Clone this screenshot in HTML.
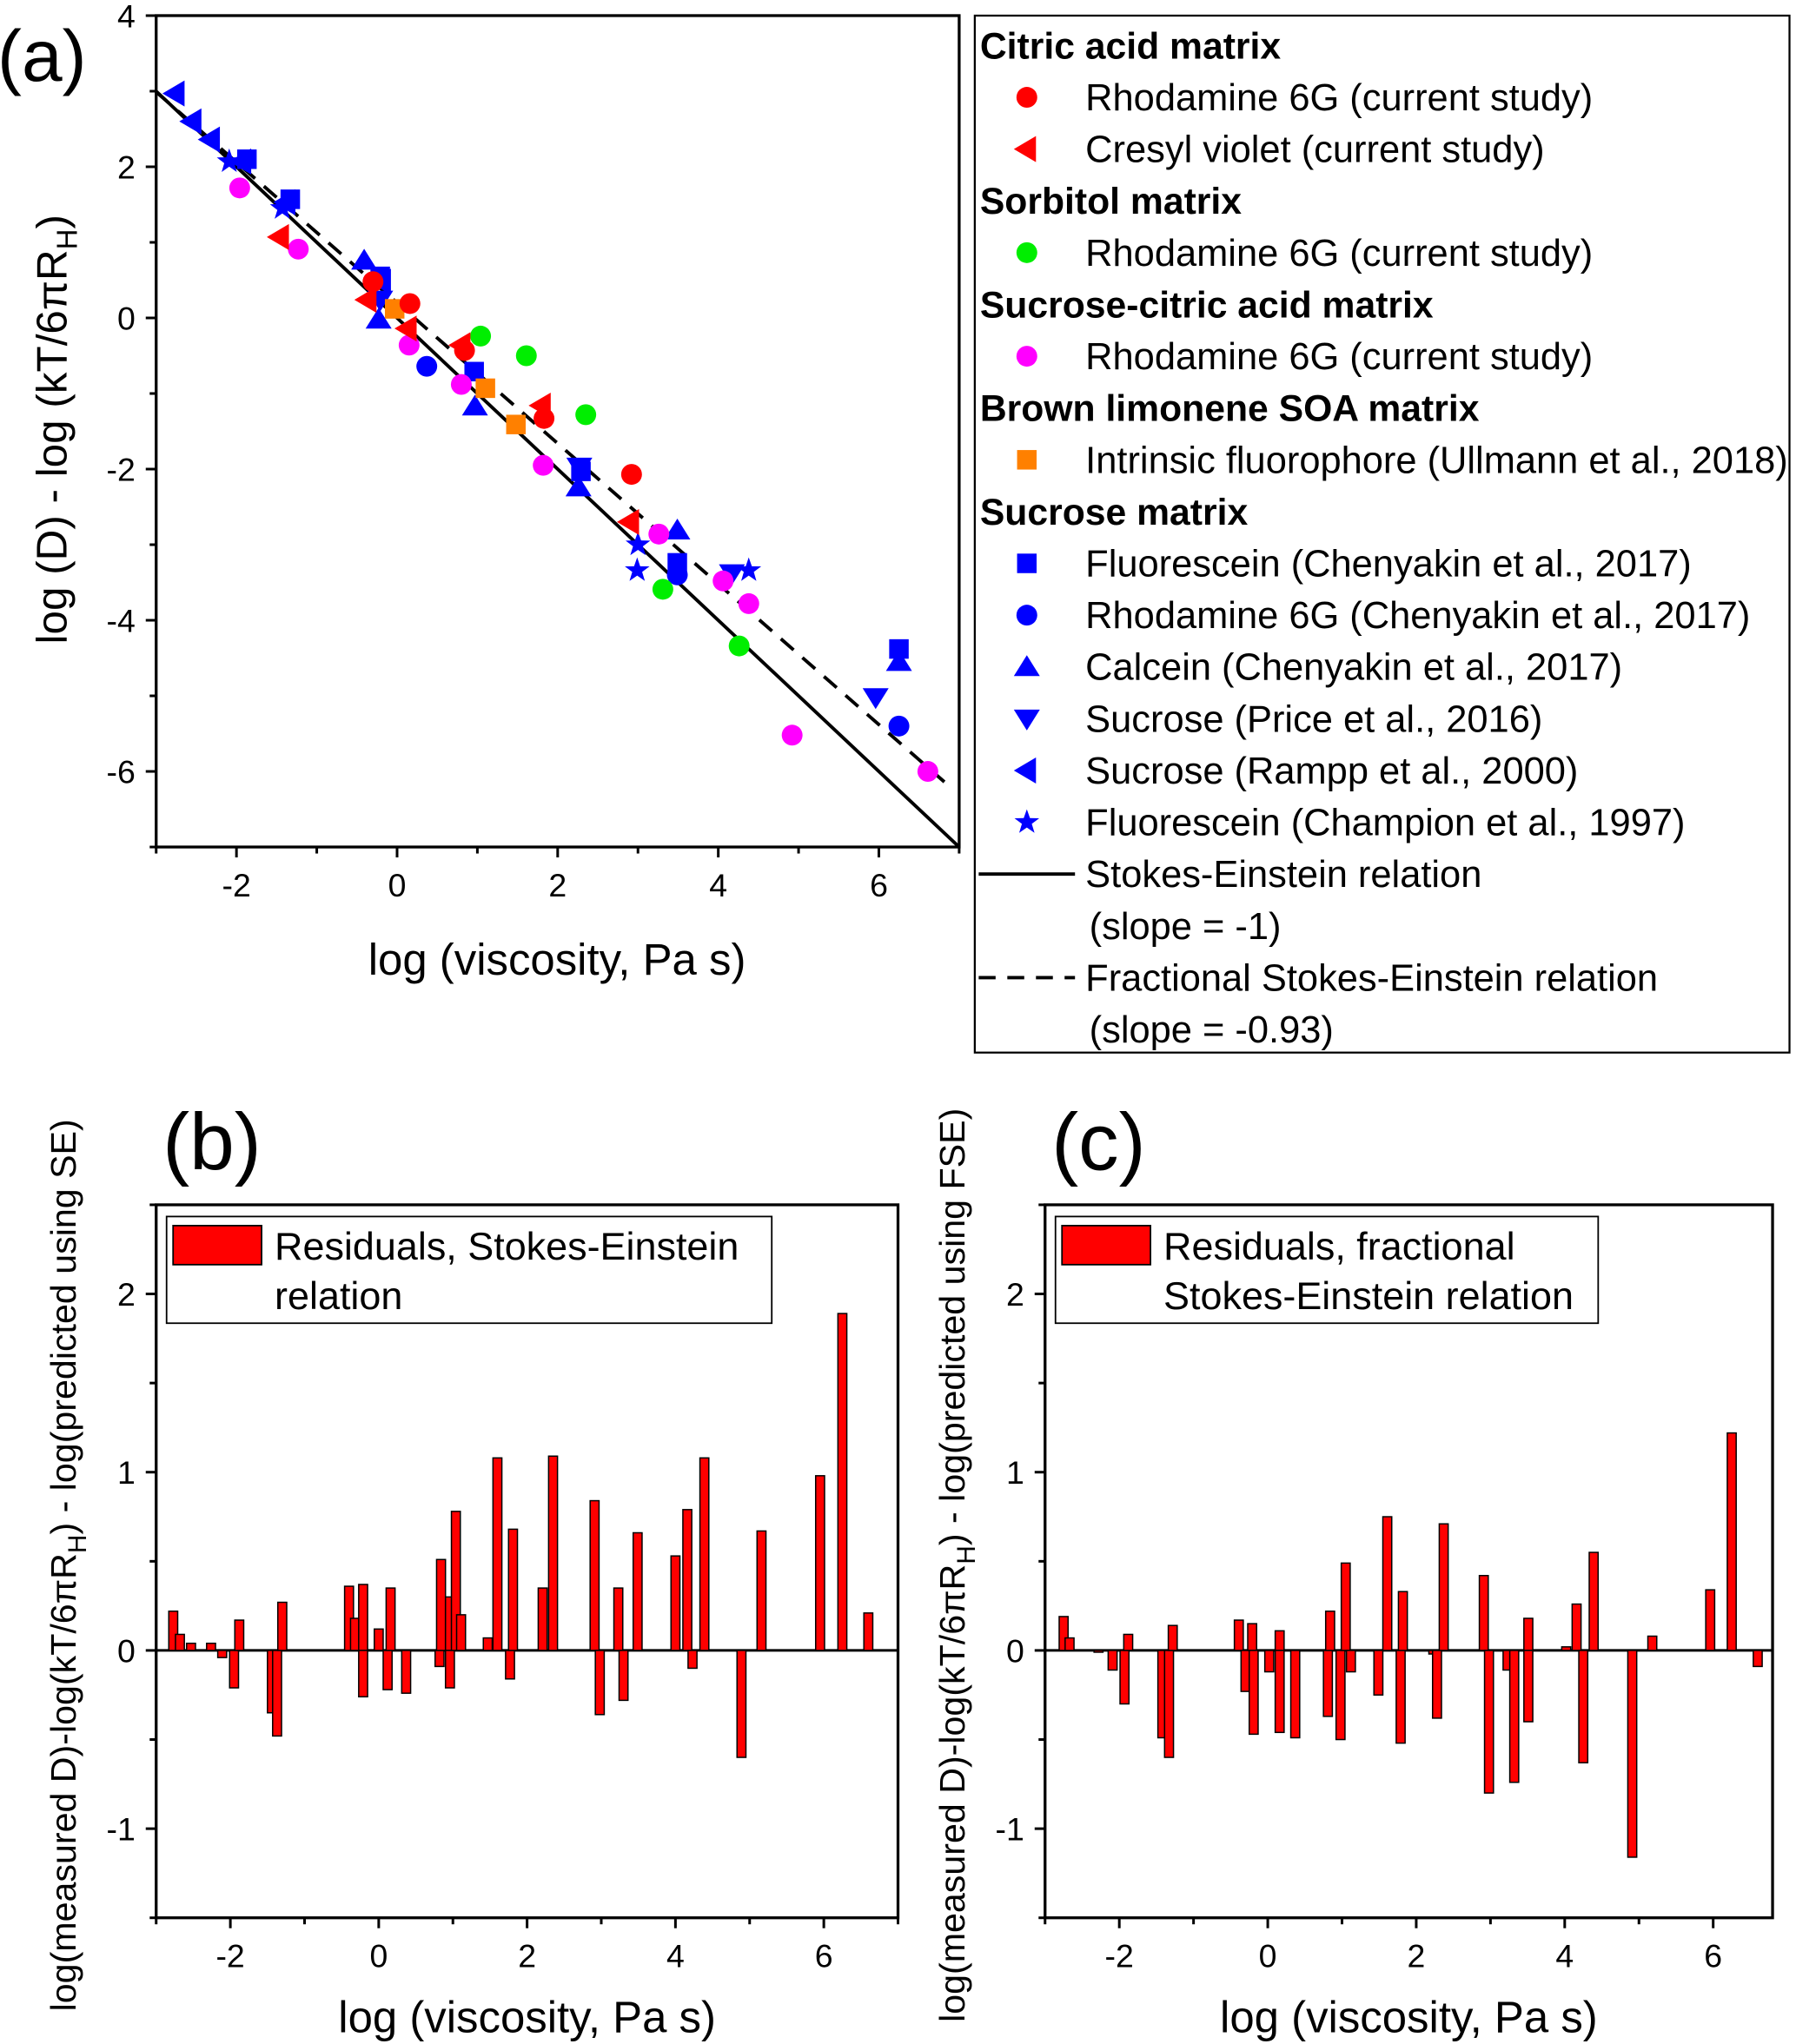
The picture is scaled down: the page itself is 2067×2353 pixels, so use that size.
<!DOCTYPE html>
<html><head><meta charset="utf-8"><style>
html,body{margin:0;padding:0;background:#fff;}
svg{display:block;}
text{font-family:"Liberation Sans",Arial,sans-serif;fill:#000;}
</style></head><body>
<svg id="fig" width="2067" height="2353" viewBox="0 0 1380 1571" preserveAspectRatio="none" xmlns="http://www.w3.org/2000/svg">
<rect width="1380" height="1571" fill="#fff"/>
<g id="pa"></g>
<g id="pb"></g>
<g id="pc"></g>
</svg>
<script>
// ---- Panel (a) data ----
const citricR6G_x=[0.16,0.84,1.83,2.92,-0.3];
const citricR6G_y=[0.19,-0.43,-1.33,-2.07,0.48];
const cresyl_x=[-1.46,-0.37,0.8,1.8,2.9,0.13];
const cresyl_y=[1.07,0.24,-0.36,-1.16,-2.7,-0.14];
const sorbitol_x=[1.04,1.61,2.35,3.31,4.26];
const sorbitol_y=[-0.24,-0.5,-1.28,-3.59,-4.34];
const sucCit_x=[-1.96,-1.23,0.15,0.8,1.82,3.26,4.06,4.38,4.92,6.61];
const sucCit_y=[1.72,0.91,-0.36,-0.88,-1.95,-2.86,-3.48,-3.78,-5.52,-6.0];
const soa_x=[-0.03,1.1,1.48];
const soa_y=[0.12,-0.93,-1.41];
const fluoCh_x=[-0.21,0.96,2.29,3.49,6.25,-1.87,-1.33];
const fluoCh_y=[0.55,-0.71,-2.03,-3.24,-4.38,2.1,1.57];
const r6gCh_x=[0.37,3.49,6.25];
const r6gCh_y=[-0.64,-3.4,-5.4];
const calcein_x=[-0.41,-0.23,0.97,2.26,3.49,6.25];
const calcein_y=[0.76,-0.02,-1.17,-2.24,-2.81,-4.55];
const sucPrice_x=[-0.21,2.27,4.17,5.96];
const sucPrice_y=[0.24,-1.97,-3.38,-5.02];
const sucRampp_x=[-2.76,-2.55,-2.32,-1.93,-1.38,-0.19];
const sucRampp_y=[2.97,2.6,2.36,2.07,1.53,0.48];
const fluoChamp_x=[-2.09,-1.43,2.99,3.0,4.38];
const fluoChamp_y=[2.07,1.45,-3.34,-3.0,-3.34];
const aXTicks=[-2,0,2,4,6];
const aYTicks=[4,2,0,-2,-4,-6];
const seSlope=-1, seIntercept=0, fseSlope=-0.93, fseIntercept=0.2;
// ---- Panel (b) data ----
const bX=[-2.77,-2.68,-2.53,-2.26,-2.11,-1.95,-1.88,-1.44,-1.37,-1.30,-0.40,-0.32,-0.21,-0.21,0,0.12,0.16,0.37,0.82,0.84,0.96,0.96,1.04,1.11,1.47,1.60,1.77,1.81,2.21,2.35,2.91,2.98,3.23,3.30,3.49,4.0,4.16,4.23,4.39,4.89,5.16,5.95,6.25,6.6];
const bY=[0.22,0.09,0.04,0.04,-0.04,-0.21,0.17,-0.35,-0.48,0.27,0.36,0.18,0.37,-0.26,0.12,-0.22,0.35,-0.24,-0.09,0.51,0.30,-0.21,0.78,0.20,0.07,1.08,-0.16,0.68,0.35,1.09,0.84,-0.36,0.35,-0.28,0.66,0.53,0.79,-0.10,1.08,-0.60,0.67,0.98,1.89,0.21];
// ---- Panel (c) data ----
const cX=[-2.75,-2.67,-2.28,-2.09,-1.93,-1.88,-1.42,-1.33,-1.28,-0.39,-0.30,-0.21,-0.19,0.02,0.16,0.16,0.37,0.81,0.84,0.98,1.05,1.12,1.49,1.61,1.79,1.82,2.23,2.28,2.37,2.91,2.98,3.23,3.32,3.51,3.51,4.02,4.16,4.25,4.39,4.91,5.18,5.96,6.25,6.6];
const cY=[0.19,0.07,-0.01,-0.11,-0.30,0.09,-0.49,-0.60,0.14,0.17,-0.23,0.15,-0.47,-0.12,0.11,-0.46,-0.49,-0.37,0.22,-0.50,0.49,-0.12,-0.25,0.75,-0.52,0.33,-0.02,-0.38,0.71,0.42,-0.80,-0.11,-0.74,0.18,-0.40,0.02,0.26,-0.63,0.55,-1.16,0.08,0.34,1.22,-0.09];
const residTicksX=[-2,0,2,4,6];
const residTicksY=[2,1,0,-1];

const NS="http://www.w3.org/2000/svg";
function mk(parent,tag,attrs,txt){const e=document.createElementNS(NS,tag);for(const k in attrs)e.setAttribute(k,attrs[k]);if(txt!==undefined)e.textContent=txt;parent.appendChild(e);return e;}
function lin(d0,d1,p0,p1){return v=>p0+(v-d0)*(p1-p0)/(d1-d0);}

function axes(g,L,R,T,B,sx,sy,xt,yt,xminor,yminor,xr,yr,name){
  const fr=mk(g,'rect',{x:L,y:T,width:R-L,height:B-T,fill:'none',stroke:'#000','stroke-width':2.2});
  
  
  for(let v=xr[0];v<=xr[1]+1e-9;v+=xminor){const px=sx(v);const major=xt.some(t=>Math.abs(t-v)<1e-6);
    mk(g,'line',{x1:px,x2:px,y1:B,y2:B+(major?8:5),stroke:'#000','stroke-width':2});}
  for(let v=yr[0];v<=yr[1]+1e-9;v+=yminor){const py=sy(v);const major=yt.some(t=>Math.abs(t-v)<1e-6);
    mk(g,'line',{x1:L,x2:L-(major?8:5),y1:py,y2:py,stroke:'#000','stroke-width':2});}
  xt.forEach(t=>{const e=mk(g,'text',{x:sx(t),y:B+38,'text-anchor':'middle','font-size':25},String(t));
    
    });
  yt.forEach(t=>{const e=mk(g,'text',{x:L-16,y:sy(t)+9,'text-anchor':'end','font-size':25},String(t));
    
    });
}

function marker(g,type,x,y,color,name){
  let e;const r=8;
  if(type==='circle')e=mk(g,'circle',{cx:x,cy:y,r:r,fill:color});
  else if(type==='square')e=mk(g,'rect',{x:x-7.5,y:y-7.5,width:15,height:15,fill:color});
  else if(type==='up')e=mk(g,'polygon',{points:`${x},${y-9} ${x-10},${y+7} ${x+10},${y+7}`,fill:color});
  else if(type==='down')e=mk(g,'polygon',{points:`${x},${y+9} ${x-10},${y-7} ${x+10},${y-7}`,fill:color});
  else if(type==='left')e=mk(g,'polygon',{points:`${x-10},${y} ${x+7},${y-10} ${x+7},${y+10}`,fill:color});
  else if(type==='star'){let p=[];for(let i=0;i<10;i++){const a=-Math.PI/2+i*Math.PI/5;const rr=i%2?4:10;p.push((x+rr*Math.cos(a)).toFixed(1)+','+(y+rr*Math.sin(a)).toFixed(1));}e=mk(g,'polygon',{points:p.join(' '),fill:color});}
  
  
  return e;
}

// ===== Panel A =====
(function(){
  const g=document.getElementById('pa');
  const L=120,R=737,T=12,B=651;
  const sx=lin(-3,7,L,R), sy=lin(4,-7,T,B);
  axes(g,L,R,T,B,sx,sy,aXTicks,aYTicks,1,1,[-3,7],[-7,4],'a');
  const cl=mk(g,'clipPath',{id:'clipA'});mk(cl,'rect',{x:L,y:T,width:R-L,height:B-T});
  const se=mk(g,'line',{x1:sx(-3),y1:sy(seSlope*-3+seIntercept),x2:sx(7),y2:sy(seSlope*7+seIntercept),stroke:'#000','stroke-width':2.6,'clip-path':'url(#clipA)'});
  
  
  const fse=mk(g,'line',{x1:sx(-3),y1:sy(fseSlope*-3+fseIntercept),x2:sx(6.85),y2:sy(fseSlope*6.85+fseIntercept),stroke:'#000','stroke-width':2.6,'stroke-dasharray':'13 9','clip-path':'url(#clipA)'});
  
  
  const series=[
    [fluoChamp_x,fluoChamp_y,'star','#0000ff','fluorescein-champion-point'],
    [sucRampp_x,sucRampp_y,'left','#0000ff','sucrose-rampp-point'],
    [sucPrice_x,sucPrice_y,'down','#0000ff','sucrose-price-point'],
    [calcein_x,calcein_y,'up','#0000ff','calcein-point'],
    [r6gCh_x,r6gCh_y,'circle','#0000ff','r6g-chenyakin-point'],
    [fluoCh_x,fluoCh_y,'square','#0000ff','fluorescein-chenyakin-point'],
    [soa_x,soa_y,'square','#ff8000','soa-point'],
    [sucCit_x,sucCit_y,'circle','#ff00ff','sucrose-citric-point'],
    [sorbitol_x,sorbitol_y,'circle','#00ee00','sorbitol-point'],
    [cresyl_x,cresyl_y,'left','#ff0000','cresyl-violet-point'],
    [citricR6G_x,citricR6G_y,'circle','#ff0000','citric-r6g-point'],
  ];
  series.forEach(s=>{s[0].forEach((x,i)=>marker(g,s[2],sx(x),sy(s[1][i]),s[3],s[4]));});
  let t=mk(g,'text',{x:-2,y:62,'font-size':56},'(a)');
  
  
  t=mk(g,'text',{x:428,y:749,'text-anchor':'middle','font-size':34},'log (viscosity, Pa s)');
  
  
  t=mk(g,'text',{transform:'translate(51,330) rotate(-90)','text-anchor':'middle','font-size':33});
  
  
  t.innerHTML='log (D) - log (kT/6πR<tspan font-size="22" dy="8">H</tspan><tspan dy="-8">)</tspan>';
  const lg=mk(g,'g',{});
  
  
  mk(lg,'rect',{x:749,y:12,width:626,height:797,fill:'#fff',stroke:'#000','stroke-width':1.5});
  const rows=[
    ['h','Citric acid matrix'],['circle','#ff0000','Rhodamine 6G (current study)'],['left','#ff0000','Cresyl violet (current study)'],
    ['h','Sorbitol matrix'],['circle','#00ee00','Rhodamine 6G (current study)'],
    ['h','Sucrose-citric acid matrix'],['circle','#ff00ff','Rhodamine 6G (current study)'],
    ['h','Brown limonene SOA matrix'],['square','#ff8000','Intrinsic fluorophore (Ullmann et al., 2018)'],
    ['h','Sucrose matrix'],['square','#0000ff','Fluorescein (Chenyakin et al., 2017)'],['circle','#0000ff','Rhodamine 6G (Chenyakin et al., 2017)'],
    ['up','#0000ff','Calcein (Chenyakin et al., 2017)'],['down','#0000ff','Sucrose (Price et al., 2016)'],['left','#0000ff','Sucrose (Rampp et al., 2000)'],
    ['star','#0000ff','Fluorescein (Champion et al., 1997)'],
    ['solid','Stokes-Einstein relation'],['t','(slope = -1)'],['dash','Fractional Stokes-Einstein relation'],['t','(slope = -0.93)']];
  rows.forEach((r,i)=>{
    const y=35+i*39.8;let e;
    if(r[0]==='h'){e=mk(lg,'text',{x:753,y:y+10,'font-size':28.5,'font-weight':'bold'},r[1]);}
    else if(r[0]==='t'){e=mk(lg,'text',{x:837,y:y+10,'font-size':29},r[1]);}
    else if(r[0]==='solid'||r[0]==='dash'){
      const l=mk(lg,'line',{x1:752,x2:826,y1:y,y2:y,stroke:'#000','stroke-width':2.6});
      if(r[0]==='dash')l.setAttribute('stroke-dasharray','13 9');
      
      
      e=mk(lg,'text',{x:834,y:y+10,'font-size':29},r[1]);}
    else{marker(lg,r[0],789,y,r[1],'legend-marker');e=mk(lg,'text',{x:834,y:y+10,'font-size':29},r[2]);}
    
    
  });
})();

// ===== Residual panels =====
function residPanel(gid,L,R,xmax,xs,ys,label,lx,legendLines,legW,ytitle,ytx,name){
  const g=document.getElementById(gid);
  const T=926,B=1474;
  const sx=lin(-3,xmax,L,R), sy=lin(2.5,-1.5,T,B);
  axes(g,L,R,T,B,sx,sy,residTicksX,residTicksY,1,0.5,[-3,xmax],[-1.5,2.5],name);
  const z=mk(g,'line',{x1:L,x2:R,y1:sy(0),y2:sy(0),stroke:'#000','stroke-width':2});
  
  
  const w=0.12*(R-L)/(xmax+3);
  xs.forEach((x,i)=>{const y0=sy(0),y1=sy(ys[i]);
    const b=mk(g,'rect',{x:sx(x)-w/2,y:Math.min(y0,y1),width:w,height:Math.abs(y1-y0),fill:'#ff0000',stroke:'#000','stroke-width':1});
    
    });
  let t=mk(g,'text',{x:lx,y:899,'font-size':62},label);
  
  
  t=mk(g,'text',{x:(L+R)/2,y:1562,'text-anchor':'middle','font-size':34},'log (viscosity, Pa s)');
  
  
  t=mk(g,'text',{transform:`translate(${ytx},1203) rotate(-90)`,'text-anchor':'middle','font-size':27.5});
  
  
  t.innerHTML='log(measured D)-log(kT/6πR<tspan font-size="20" dy="8">H</tspan><tspan dy="-8">) - log(predicted using '+ytitle+')</tspan>';
  const lg=mk(g,'g',{});
  
  
  mk(lg,'rect',{x:L+8,y:935,width:legW,height:82,fill:'#fff',stroke:'#000','stroke-width':1.2});
  mk(lg,'rect',{x:L+13,y:942,width:68,height:30,fill:'#ff0000',stroke:'#000','stroke-width':1.2});
  legendLines.forEach((s,i)=>mk(lg,'text',{x:L+91,y:968+i*38,'font-size':30},s));
}
residPanel('pb',120,690,7,bX,bY,'(b)',125,['Residuals, Stokes-Einstein','relation'],465,'SE',58,'b');
residPanel('pc',803,1362,6.8,cX,cY,'(c)',808,['Residuals, fractional','Stokes-Einstein relation'],417,'FSE',741,'c');
</script>
</body></html>
